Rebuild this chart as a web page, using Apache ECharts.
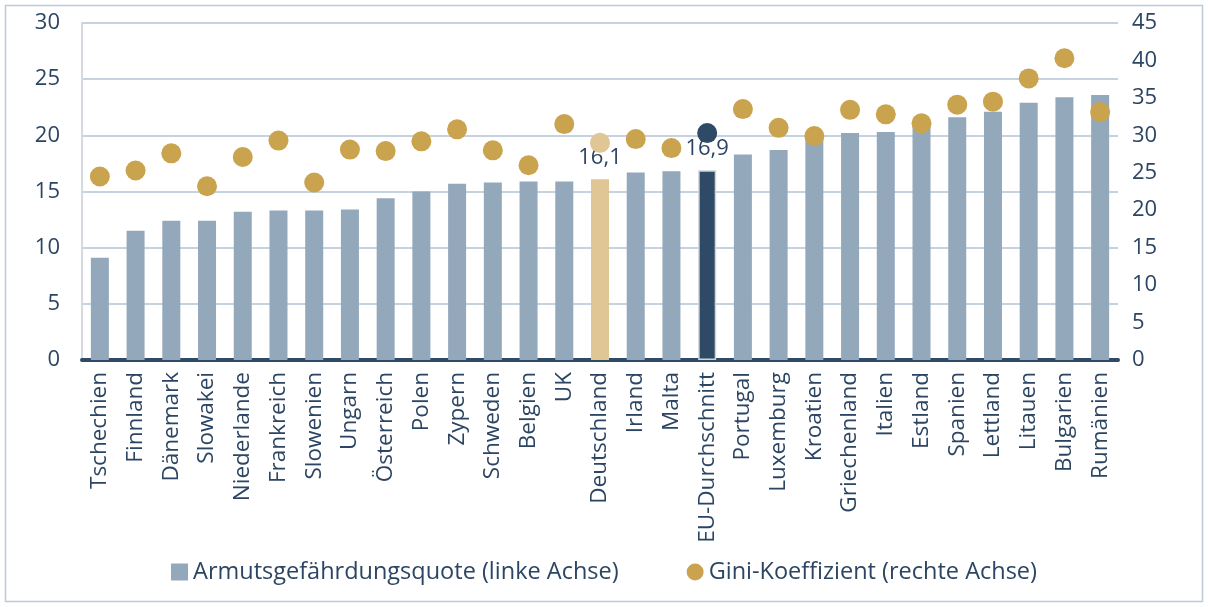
<!DOCTYPE html>
<html><head><meta charset="utf-8">
<script src="https://cdn.jsdelivr.net/npm/echarts@6/dist/echarts.min.js"></script>
<style>html,body{margin:0;padding:0;background:#fff}#c{width:1208px;height:607px}</style>
</head><body><div id="c"></div>
<script>
const categories = ['Tschechien','Finnland','Dänemark','Slowakei','Niederlande','Frankreich','Slowenien','Ungarn','Österreich','Polen','Zypern','Schweden','Belgien','UK','Deutschland','Irland','Malta','EU-Durchschnitt','Portugal','Luxemburg','Kroatien','Griechenland','Italien','Estland','Spanien','Lettland','Litauen','Bulgarien','Rumänien'];
const armutsquote = [9.1,11.5,12.4,12.4,13.2,13.3,13.3,13.4,14.4,15.0,15.7,15.8,15.9,15.9,16.1,16.7,16.8,16.9,18.3,18.7,19.8,20.2,20.3,21.0,21.6,22.1,22.9,23.4,23.6];
const gini = [24.5,25.3,27.6,23.2,27.1,29.3,23.7,28.1,27.9,29.2,30.8,28.0,26.0,31.5,29.0,29.5,28.3,30.3,33.5,31.0,29.9,33.4,32.8,31.6,34.1,34.5,37.6,40.3,33.1];
const leftTicks = {min:0,max:30,interval:5};
const rightTicks = {min:0,max:45,interval:5};
const seriesNames = ['Armutsgefährdungsquote (linke Achse)','Gini-Koeffizient (rechte Achse)'];

const TEXT = '#2c4563';
const BAR = '#94a8bc', DE = '#e0c595', EU = '#2e4a66', GOLD = '#c9a34d';
const FONT = 'Open Sans';

const barData = armutsquote.map((v,i)=>{
  const c = categories[i];
  if (c==='Deutschland') return {value:v,itemStyle:{color:DE},label:{show:true}};
  if (c==='EU-Durchschnitt') return {value:v,itemStyle:{color:EU,borderColor:'#d0d4d8',borderWidth:1.5},label:{show:true}};
  return v;
});
const dotData = gini.map((v,i)=>{
  const c = categories[i];
  if (c==='Deutschland') return {value:v,itemStyle:{color:DE}};
  if (c==='EU-Durchschnitt') return {value:v,itemStyle:{color:EU}};
  return v;
});

const chart = echarts.init(document.getElementById('c'), null, {renderer:'canvas'});
chart.setOption({
  animation:false,
  textStyle:{fontFamily:FONT,color:TEXT},
  graphic:[{type:'rect',shape:{x:5.5,y:5.5,width:1197,height:596},style:{fill:'none',stroke:'#bccbda',lineWidth:1.5},silent:true,z:-10}],
  grid:{left:82,right:90,top:23,bottom:247,containLabel:false},
  legend:{
    bottom:18,left:'center',itemGap:68,itemWidth:17,itemHeight:17,
    textStyle:{fontFamily:FONT,fontSize:23.5,color:TEXT},
    data:[{name:seriesNames[0],icon:'rect',itemStyle:{color:BAR}},{name:seriesNames[1],icon:'circle',itemStyle:{color:GOLD}}]
  },
  xAxis:{
    type:'category',data:categories,
    axisLine:{show:true,lineStyle:{color:'#2e4a66',width:4}},
    axisTick:{show:false},
    axisLabel:{rotate:90,interval:0,margin:12,fontFamily:FONT,fontSize:22.5,color:TEXT}
  },
  yAxis:[
    {type:'value',min:leftTicks.min,max:leftTicks.max,interval:leftTicks.interval,
     axisLine:{show:true,lineStyle:{color:'#d3d9df',width:2}},axisTick:{show:false},
     splitLine:{show:true,lineStyle:{color:'#c5d3e0',width:2}},
     axisLabel:{fontFamily:FONT,fontSize:22,color:TEXT,margin:22}},
    {type:'value',min:rightTicks.min,max:rightTicks.max,interval:rightTicks.interval,position:'right',
     axisLine:{show:false},axisTick:{show:false},splitLine:{show:false},
     axisLabel:{fontFamily:FONT,fontSize:22,color:TEXT,margin:14}}
  ],
  series:[
    {name:seriesNames[0],type:'bar',yAxisIndex:0,data:barData,barWidth:18,itemStyle:{color:BAR},
     label:{show:false,position:'top',distance:10,fontFamily:FONT,fontSize:22,color:TEXT,
       formatter:p=>String(p.value).replace('.',',')},z:2},
    {name:seriesNames[1],type:'scatter',yAxisIndex:1,data:dotData,symbolSize:20,itemStyle:{color:GOLD,opacity:1},z:3}
  ]
});
</script></body></html>
